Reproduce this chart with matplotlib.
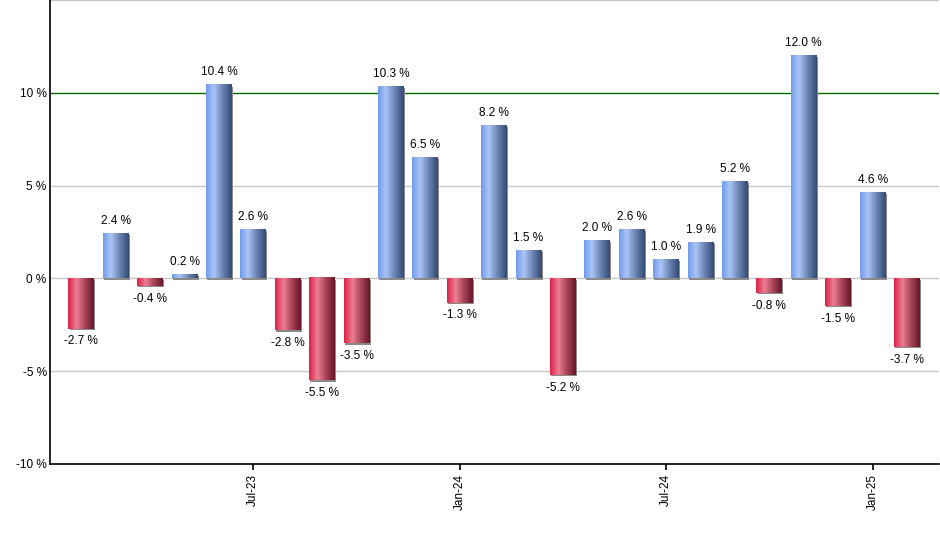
import matplotlib
matplotlib.use("Agg")
import matplotlib.pyplot as plt
import matplotlib.transforms as mtransforms
from matplotlib.patches import Rectangle
import numpy as np

FONTSIZE = 8.5

# monthly returns, Feb-23 .. Feb-25 (percent)
months = [
    "Feb-23", "Mar-23", "Apr-23", "May-23", "Jun-23", "Jul-23", "Aug-23",
    "Sep-23", "Oct-23", "Nov-23", "Dec-23", "Jan-24", "Feb-24", "Mar-24",
    "Apr-24", "May-24", "Jun-24", "Jul-24", "Aug-24", "Sep-24", "Oct-24",
    "Nov-24", "Dec-24", "Jan-25", "Feb-25",
]
returns = [
    -2.7, 2.4, -0.4, 0.2, 10.4, 2.6, -2.8, -5.5, -3.5, 10.3, 6.5, -1.3, 8.2,
    1.5, -5.2, 2.0, 2.6, 1.0, 1.9, 5.2, -0.8, 12.0, -1.5, 4.6, -3.7,
]
tick_months = ["Jul-23", "Jan-24", "Jul-24", "Jan-25"]
y_ticks = [-10, -5, 0, 5, 10]

plt.rcParams["font.family"] = ["Liberation Sans", "DejaVu Sans"]


def gradient(stops, n=64):
    # stops: list of (pos, hex)
    pos = np.array([s[0] for s in stops])
    cols = np.array([matplotlib.colors.to_rgb(s[1]) for s in stops])
    t = np.linspace(0, 1, n)
    out = np.stack([np.interp(t, pos, cols[:, k]) for k in range(3)], axis=-1)
    return out[np.newaxis, :, :]


BLUE = gradient([(0, "#719bea"), (0.3, "#abc5f6"), (0.65, "#6a83b3"), (1, "#334a73")])
RED = gradient([(0, "#dc2248"), (0.33, "#ec7f93"), (0.65, "#a84559"), (1, "#6a1528")])

fig = plt.figure(figsize=(9.4, 5.5), dpi=100)
ax = fig.add_axes([49.5 / 940, 86 / 550, (939 - 49.5) / 940, 464 / 550])

x = np.arange(1, len(returns) + 1)
width = 0.75
shadow_tr = mtransforms.offset_copy(ax.transData, fig=fig, x=1.2, y=-1.2, units="dots")

for xi, v in zip(x, returns):
    x0, x1 = xi - width / 2, xi + width / 2
    y0, y1 = (0, v) if v >= 0 else (v, 0)
    ax.add_patch(Rectangle((x0, y0), width, y1 - y0, transform=shadow_tr,
                           facecolor="#8a8a8a", edgecolor="none", zorder=2))
    ax.imshow(BLUE if v >= 0 else RED, extent=[x0, x1, y0, y1], aspect="auto",
              interpolation="bilinear", zorder=3)
    label = f"{v:.1f} %"
    if v >= 0:
        ax.annotate(label, (xi, v), xytext=(0, 5), textcoords="offset points",
                    ha="center", va="bottom", fontsize=FONTSIZE, zorder=4)
    else:
        ax.annotate(label, (xi, v), xytext=(0, -5), textcoords="offset points",
                    ha="center", va="top", fontsize=FONTSIZE, zorder=4)

ax.set_xlim(0.076, 25.93)
ax.set_ylim(-10, 15)

# grid lines
for yv in [-5, 0, 5, 15]:
    ax.axhline(yv, color="#c8c8c8", lw=1.0, zorder=1)
ax.axhline(10, color="#006a00", lw=1.0, zorder=1)

ax.set_yticks(y_ticks)
ax.set_yticklabels([f"{t} %" for t in y_ticks], fontsize=FONTSIZE)
ax.set_xticks([x[months.index(m)] for m in tick_months])
ax.set_xticklabels(tick_months, rotation=90, fontsize=FONTSIZE)
ax.tick_params(axis="y", length=0, pad=2)
ax.tick_params(axis="x", length=4, width=1.2, pad=3)

for side in ["top", "right"]:
    ax.spines[side].set_visible(False)
ax.spines["left"].set_linewidth(1.2)
ax.spines["bottom"].set_linewidth(1.2)

fig.savefig("out.png", dpi=100)
